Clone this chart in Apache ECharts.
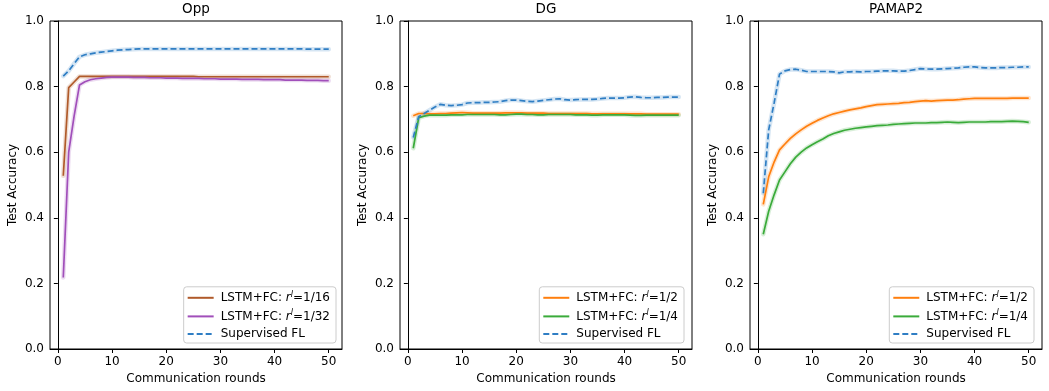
<!DOCTYPE html>
<html>
<head>
<meta charset="utf-8">
<script src="https://cdn.jsdelivr.net/npm/echarts@6/dist/echarts.min.js"></script>
<style>html,body{margin:0;padding:0;background:#fff}#c{width:1049px;height:391px}</style>
</head>
<body>
<div id="c"></div>
<script>
const rounds = Array.from({length: 50}, (_, i) => i + 1);
const xTicks = [0, 10, 20, 30, 40, 50];
const panelTitles = ['Opp', 'DG', 'PAMAP2'];

const oppR16 = [0.528,0.797,0.814,0.831,0.831,0.831,0.831,0.831,0.831,0.831,0.831,0.831,0.831,0.831,0.831,0.831,0.831,0.831,0.831,0.831,0.831,0.831,0.831,0.831,0.831,0.830,0.830,0.830,0.830,0.830,0.830,0.830,0.830,0.830,0.830,0.830,0.830,0.830,0.830,0.830,0.830,0.830,0.830,0.830,0.830,0.830,0.830,0.830,0.830,0.830];
const oppR32 = [0.218,0.600,0.710,0.805,0.815,0.821,0.824,0.826,0.828,0.829,0.829,0.829,0.829,0.828,0.828,0.828,0.827,0.827,0.827,0.826,0.826,0.826,0.825,0.825,0.825,0.825,0.824,0.824,0.824,0.823,0.823,0.823,0.823,0.822,0.822,0.822,0.822,0.821,0.821,0.821,0.821,0.820,0.820,0.820,0.820,0.819,0.819,0.819,0.818,0.818];
const oppSup = [0.832,0.848,0.870,0.891,0.897,0.900,0.903,0.905,0.907,0.909,0.911,0.912,0.913,0.914,0.915,0.915,0.915,0.915,0.915,0.915,0.915,0.915,0.915,0.915,0.915,0.915,0.915,0.915,0.915,0.915,0.915,0.915,0.915,0.915,0.915,0.915,0.915,0.915,0.915,0.915,0.915,0.915,0.915,0.915,0.915,0.914,0.914,0.914,0.914,0.914];

const dgR2 = [0.711,0.718,0.718,0.717,0.717,0.718,0.718,0.719,0.720,0.721,0.720,0.719,0.719,0.719,0.719,0.719,0.719,0.720,0.720,0.720,0.720,0.719,0.719,0.719,0.719,0.718,0.718,0.718,0.718,0.718,0.718,0.718,0.718,0.717,0.717,0.717,0.717,0.717,0.717,0.717,0.717,0.717,0.717,0.716,0.716,0.716,0.716,0.716,0.716,0.716];
const dgR4 = [0.612,0.705,0.710,0.713,0.713,0.713,0.713,0.714,0.714,0.714,0.715,0.715,0.715,0.715,0.715,0.715,0.714,0.714,0.715,0.716,0.716,0.715,0.715,0.714,0.714,0.715,0.715,0.715,0.715,0.715,0.714,0.714,0.714,0.713,0.713,0.714,0.714,0.714,0.714,0.714,0.713,0.712,0.712,0.713,0.713,0.713,0.713,0.713,0.713,0.713];
const dgSup = [0.645,0.708,0.718,0.728,0.738,0.746,0.743,0.742,0.743,0.745,0.750,0.751,0.751,0.752,0.752,0.753,0.754,0.757,0.759,0.759,0.757,0.755,0.754,0.756,0.758,0.760,0.762,0.763,0.760,0.759,0.760,0.761,0.761,0.761,0.762,0.764,0.765,0.765,0.765,0.766,0.768,0.769,0.767,0.766,0.766,0.767,0.767,0.768,0.768,0.768];

const pamR2 = [0.441,0.525,0.570,0.607,0.625,0.642,0.656,0.668,0.679,0.688,0.697,0.704,0.711,0.717,0.721,0.725,0.729,0.732,0.735,0.739,0.742,0.745,0.746,0.747,0.748,0.749,0.751,0.752,0.754,0.756,0.757,0.756,0.757,0.758,0.759,0.759,0.760,0.762,0.763,0.764,0.764,0.764,0.764,0.764,0.764,0.764,0.765,0.765,0.765,0.765];
const pamR4 = [0.350,0.420,0.470,0.515,0.540,0.565,0.585,0.600,0.613,0.623,0.632,0.640,0.650,0.657,0.662,0.667,0.670,0.673,0.675,0.677,0.679,0.681,0.682,0.683,0.685,0.686,0.687,0.688,0.689,0.689,0.689,0.690,0.690,0.691,0.692,0.691,0.690,0.691,0.692,0.692,0.692,0.692,0.693,0.693,0.693,0.694,0.695,0.694,0.693,0.691];
const pamSup = [0.475,0.668,0.750,0.838,0.848,0.852,0.853,0.850,0.846,0.846,0.846,0.846,0.846,0.845,0.842,0.845,0.845,0.846,0.845,0.846,0.846,0.847,0.848,0.848,0.848,0.847,0.847,0.849,0.852,0.855,0.854,0.853,0.853,0.854,0.855,0.856,0.857,0.859,0.860,0.860,0.858,0.857,0.857,0.857,0.858,0.858,0.859,0.859,0.860,0.860];

const nR16 = 'LSTM+FC: r^l=1/16', nR32 = 'LSTM+FC: r^l=1/32';
const nR2 = 'LSTM+FC: r^l=1/2', nR4 = 'LSTM+FC: r^l=1/4', nSup = 'Supervised FL';

const C = { brown: '#b05a2a', purple: '#a14fba', orange: '#ff7f0e', green: '#3aab3a', blue: '#2f7ec4' };
const FONT = 'DejaVu Sans';

const panels = [
  { lines: [[nR16, oppR16, C.brown, 'solid'], [nR32, oppR32, C.purple, 'solid'], [nSup, oppSup, C.blue, [6, 3]]], legendRight: 713 },
  { lines: [[nR2, dgR2, C.orange, 'solid'], [nR4, dgR4, C.green, 'solid'], [nSup, dgSup, C.blue, [6, 3]]], legendRight: 365 },
  { lines: [[nR2, pamR2, C.orange, 'solid'], [nR4, pamR4, C.green, 'solid'], [nSup, pamSup, C.blue, [6, 3]]], legendRight: 15 }
];
const lefts = [50, 400, 750];
const W = 292, TOP = 21, H = 328;

const grid = [], xAxis = [], yAxis = [], series = [], legend = [], title = [];
panels.forEach((p, i) => {
  grid.push({ left: lefts[i], top: TOP, width: W, height: H, show: true, borderColor: '#000', borderWidth: 1, backgroundColor: 'transparent' });
  title.push({ text: panelTitles[i], left: lefts[i] + W / 2, textAlign: 'center', top: 2, padding: 0, textStyle: { fontFamily: FONT, fontSize: 13.5, fontWeight: 'normal', color: '#000' } });
  xAxis.push({
    type: 'value', gridIndex: i, min: -1.45, max: 52.45,
    name: 'Communication rounds', nameLocation: 'middle', nameGap: 24,
    nameTextStyle: { fontFamily: FONT, fontSize: 12, color: '#000' },
    axisLine: { show: true, lineStyle: { color: '#000', width: 1 } },
    axisTick: { show: true, inside: false, length: 4, customValues: xTicks, lineStyle: { color: '#000' } },
    axisLabel: { customValues: xTicks, fontFamily: FONT, fontSize: 12, color: '#000', margin: 7 },
    splitLine: { show: false }
  });
  yAxis.push({
    type: 'value', gridIndex: i, min: 0, max: 1, interval: 0.2,
    name: 'Test Accuracy', nameLocation: 'middle', nameGap: 31,
    nameTextStyle: { fontFamily: FONT, fontSize: 12, color: '#000' },
    axisLine: { show: true, lineStyle: { color: '#000', width: 1 } },
    axisTick: { show: true, inside: false, length: 4, lineStyle: { color: '#000' } },
    axisLabel: { fontFamily: FONT, fontSize: 12, color: '#000', margin: 6, formatter: v => v.toFixed(1) },
    splitLine: { show: false }
  });
  // translucent bands under the lines
  p.lines.forEach(([name, vals, color]) => {
    series.push({
      type: 'line', name: name + ' band', xAxisIndex: i, yAxisIndex: i,
      data: rounds.map((r, k) => [r, vals[k]]), symbol: 'none', silent: true,
      lineStyle: { color: color, width: 4.5, opacity: 0.2, cap: 'round', join: 'round' }, z: 1
    });
  });
  p.lines.forEach(([name, vals, color, type]) => {
    series.push({
      type: 'line', name: name, xAxisIndex: i, yAxisIndex: i,
      data: rounds.map((r, k) => [r, vals[k]]), symbol: 'none', showSymbol: false,
      lineStyle: { color: color, width: 1.7, type: type }, itemStyle: { color: color }, z: 3
    });
  });
  legend.push({
    data: p.lines.map(l => l[0]), orient: 'vertical', right: p.legendRight, bottom: 48,
    backgroundColor: 'rgba(255,255,255,0.85)', borderColor: '#cccccc', borderWidth: 1, borderRadius: 3,
    padding: [4, 6, 3, 3], itemWidth: 26, itemHeight: 14, itemGap: 5.6, selectedMode: false,
    itemStyle: { color: 'transparent', borderColor: 'transparent', borderWidth: 0, opacity: 0 },
    formatter: name => {
      const parts = name.split('r^l');
      if (parts.length === 2) return '{n|' + parts[0] + '}{r|r}{s|l}{n|' + parts[1] + '}';
      return '{n|' + name + '}';
    },
    textStyle: {
      fontFamily: FONT, fontSize: 12, color: '#000', padding: [0, 0, 0, 2],
      rich: {
        n: { fontFamily: FONT, fontSize: 12, color: '#000', lineHeight: 14 },
        r: { fontFamily: FONT, fontSize: 12, fontStyle: 'italic', color: '#000', lineHeight: 14 },
        s: { fontFamily: FONT, fontSize: 8, fontStyle: 'italic', color: '#000', verticalAlign: 'top', lineHeight: 10 }
      }
    }
  });
});

const chart = echarts.init(document.getElementById('c'), null, { renderer: 'canvas' });
chart.setOption({ animation: false, backgroundColor: '#fff', title, grid, xAxis, yAxis, series, legend });
</script>
</body>
</html>
